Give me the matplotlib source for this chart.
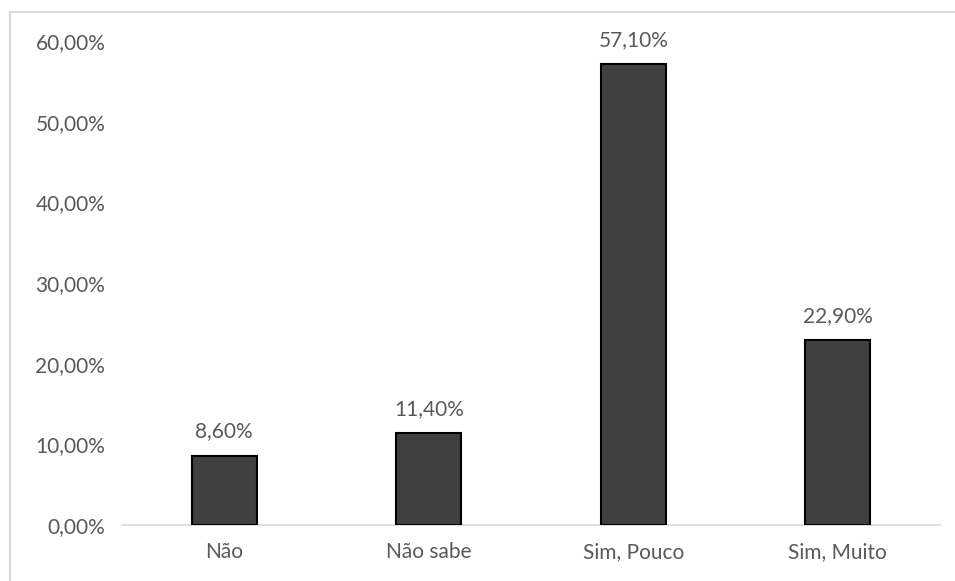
import matplotlib
matplotlib.use("Agg")
import matplotlib.pyplot as plt
from matplotlib.ticker import FuncFormatter
from matplotlib.lines import Line2D

categories = ["Não", "Não sabe", "Sim, Pouco", "Sim, Muito"]
values = [8.6, 11.4, 57.1, 22.9]
yticks = [0, 10, 20, 30, 40, 50, 60]

plt.rcParams['font.family'] = ['Lato', 'DejaVu Sans']
txt = '#595959'
fs = 15

fig = plt.figure(figsize=(9.55, 5.81), dpi=100)
ax = fig.add_axes([122/955, 1 - 525/581, 818/955, (525 - 41)/581])

x = list(range(len(categories)))
ax.bar(x, values, width=0.32, color='#404040', edgecolor='black', linewidth=1.5, zorder=3)
for xi, v in zip(x, values):
    ax.annotate(f"{v:.2f}%".replace('.', ','), (xi, v), xytext=(0, 13),
                textcoords='offset points', ha='center', va='baseline',
                fontsize=fs, color=txt)

ax.set_xlim(-0.5, len(categories) - 0.5)
ax.set_ylim(0, 60)
ax.set_yticks(yticks)
ax.yaxis.set_major_formatter(FuncFormatter(lambda v, p: f"{v:.2f}%".replace('.', ',')))
ax.set_xticks(x)
ax.set_xticklabels(categories)
ax.tick_params(axis='both', length=0, labelsize=fs, labelcolor=txt)
ax.tick_params(axis='x', pad=12)
ax.tick_params(axis='y', pad=12)
for s in ['top', 'right', 'left']:
    ax.spines[s].set_visible(False)
ax.spines['bottom'].set_color('#d9d9d9')
ax.spines['bottom'].set_linewidth(1.2)

# chart frame (only top and left edges visible in the crop)
W, H = 955, 581
fig.add_artist(Line2D([10/W, 10/W], [0, 1 - 12/H], transform=fig.transFigure,
                      color='#d9d9d9', linewidth=1.5))
fig.add_artist(Line2D([10/W, 1], [1 - 12/H, 1 - 12/H], transform=fig.transFigure,
                      color='#d9d9d9', linewidth=1.5))

fig.savefig('out.png', dpi=100)
